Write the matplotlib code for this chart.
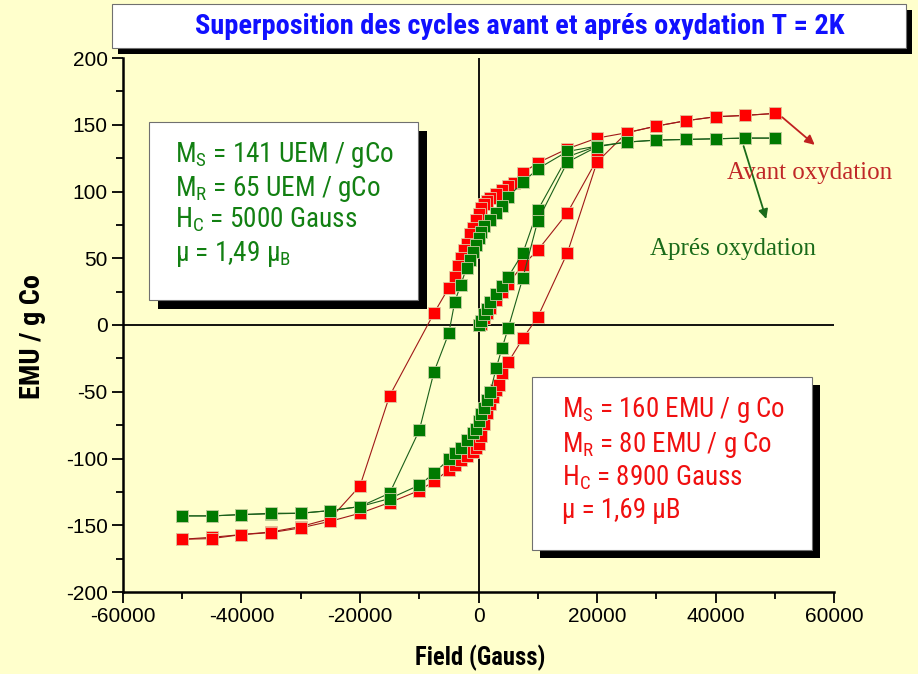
import matplotlib
matplotlib.use("Agg")
import matplotlib.pyplot as plt
from matplotlib import font_manager
from matplotlib.patches import Rectangle

# ---------------- data (field in Gauss, magnetisation in EMU / g Co) ----------------
# before oxidation (red)
avant_virgin_H = [0, 500, 1000, 1500, 2000, 3000, 4000, 5000, 7500, 10000, 15000, 20000]
avant_virgin_M = [0, 1, 5, 9, 13, 19, 25, 31, 45, 56, 84, 124]

avant_down_H = [50000, 45000, 40000, 35000, 30000, 25000, 20000, 15000, 10000, 7500,
                6000, 5000, 4000, 3000, 2000, 1500, 1000, 500, 0, -500, -1000, -1500,
                -2000, -2500, -3000, -3500, -4000, -5000, -7500, -15000, -20000,
                -25000, -30000, -35000, -40000, -45000, -50000]
avant_down_M = [158.5, 157, 156, 153, 149, 144, 140, 132, 121.5, 114,
                106, 104, 101, 98, 95, 93, 91, 88, 83, 79, 73, 68,
                61, 56, 50, 44, 36, 28, 9, -53, -120.5,
                -145, -151, -155, -157, -159, -160.5]

avant_up_H = [-50000, -45000, -40000, -35000, -30000, -25000, -20000, -15000, -10000,
              -7500, -5000, -4000, -3000, -2000, -1000, -500, 0, 500, 1000, 1500, 2000,
              2500, 3000, 3500, 4000, 5000, 7500, 10000, 15000, 20000, 25000, 30000,
              35000, 40000, 45000, 50000]
avant_up_M = [-160.5, -160, -157, -155.5, -152, -147, -141, -133, -124,
              -117, -108.5, -105, -101, -98, -95, -92, -89, -83, -74, -66, -59,
              -54, -49, -45, -36, -28, -10, 6, 54, 122, 144, 149,
              153, 156, 157, 158.5]

# after oxidation (green)
apres_virgin_H = [0, 500, 1000, 1500, 2000, 3000, 4000, 5000, 7500, 10000, 15000, 20000]
apres_virgin_M = [0, 3, 8, 12, 17, 23, 29, 36, 54, 86, 126, 134]

apres_down_H = [50000, 45000, 40000, 35000, 30000, 25000, 20000, 15000, 10000, 7500,
                5000, 4000, 3000, 2000, 1000, 500, 0, -500, -1000, -1500, -2000,
                -3000, -4000, -5000, -7500, -10000, -15000, -20000, -25000, -30000,
                -35000, -40000, -45000, -50000]
apres_down_M = [140, 140, 139.5, 139, 138.5, 137, 134, 130, 117, 107,
                96, 89, 84, 79, 74, 70, 65, 60, 55, 49, 43,
                30, 17.5, -6, -35, -79, -126, -136, -139, -141,
                -141.5, -142, -143, -143]

apres_up_H = [-50000, -45000, -40000, -35000, -30000, -25000, -20000, -15000, -10000,
              -7500, -5000, -4000, -3000, -2000, -1000, -500, 0, 500, 1000, 1500,
              2000, 3000, 4000, 5000, 7500, 10000, 15000, 20000, 25000, 30000, 35000,
              40000, 45000, 50000]
apres_up_M = [-143, -143, -142, -141, -141, -139, -136, -130, -120,
              -111, -100.5, -96, -92, -86, -81, -78, -72, -67, -62, -56,
              -50, -32, -17, -2.5, 35.5, 78, 122, 133.5, 137, 138.5, 139,
              139.5, 140, 140]

x_ticks = [-60000, -40000, -20000, 0, 20000, 40000, 60000]
y_ticks = [-200, -150, -100, -50, 0, 50, 100, 150, 200]

title = "Superposition des cycles avant et aprés oxydation T = 2K"
green_lines = ["$M_S$ = 141 UEM / gCo", "$M_R$ = 65 UEM / gCo",
               "$H_C$ = 5000 Gauss", "μ = 1,49 $μ_B$"]
red_lines = ["$M_S$ = 160 EMU / g Co", "$M_R$ = 80 EMU / g Co",
             "$H_C$ = 8900 Gauss", "μ = 1,69 μB"]

# ---------------- fonts ----------------
entries = font_manager.fontManager.ttflist
NARROW, STRETCH = "Liberation Sans", "normal"
for fam in ["Liberation Sans Narrow", "Roboto Condensed", "Open Sans Condensed",
            "Noto Sans", "DejaVu Sans", "Open Sans", "Roboto", "Inter"]:
    hits = [f for f in entries if f.name == fam and
            ("condensed" in str(f.stretch).lower() or "narrow" in f.name.lower())]
    if hits:
        NARROW, STRETCH = fam, hits[0].stretch
        break
plt.rcParams["mathtext.default"] = "regular"
plt.rcParams["axes.unicode_minus"] = False

BG = "#ffffcc"
W, H = 918, 674
fig = plt.figure(figsize=(W / 100, H / 100), dpi=100, facecolor=BG)
renderer = fig.canvas.get_renderer()


def fx(px):
    return px / W


def fy(py):
    return 1 - py / H


def fit_width(artist, target_px):
    """Scale a text's font size so its rendered width equals target_px."""
    w = artist.get_window_extent(renderer).width
    artist.set_fontsize(artist.get_fontsize() * target_px / w)
    return artist.get_fontsize()


ax = fig.add_axes([fx(123), fy(592), (834 - 123) / W, (592 - 58) / H])
ax.set_facecolor(BG)

red_face, red_line = "#ff0000", "#a01818"
green_face, green_line = "#007a00", "#1a5f1a"
mk = dict(marker="s", markersize=8, markeredgewidth=0.6, linewidth=0.8)

for hs, ms in [(avant_virgin_H, avant_virgin_M), (avant_down_H, avant_down_M),
               (avant_up_H, avant_up_M)]:
    ax.plot(hs, ms, color=red_line, markerfacecolor=red_face,
            markeredgecolor="#e0c8a0", zorder=3, **mk)
for hs, ms in [(apres_virgin_H, apres_virgin_M), (apres_down_H, apres_down_M),
               (apres_up_H, apres_up_M)]:
    ax.plot(hs, ms, color=green_line, markerfacecolor=green_face,
            markeredgecolor="#c8d0a0", zorder=4, **mk)

ax.axhline(0, color="black", lw=1.3, zorder=2)
ax.axvline(0, color="black", lw=1.3, zorder=2)

ax.set_xlim(-60000, 60000)
ax.set_ylim(-200, 200)
ax.set_xticks(x_ticks)
ax.set_xticks(range(-50000, 60000, 20000), minor=True)
ax.set_yticks(y_ticks)
ax.set_yticks(range(-175, 200, 50), minor=True)
ax.tick_params(which="major", direction="out", length=8, width=1.3, labelsize=15,
               color="black", pad=3)
ax.tick_params(which="minor", direction="out", length=5, width=1.3)
for lab in ax.get_xticklabels() + ax.get_yticklabels():
    lab.set_fontfamily("Liberation Sans")
for side in ("top", "right"):
    ax.spines[side].set_visible(False)
for side in ("left", "bottom"):
    ax.spines[side].set_linewidth(1.8)

# axis titles
xl = fig.text(fx(480), fy(658), "Field (Gauss)", fontsize=19, family=NARROW,
              fontstretch=STRETCH, fontweight="bold", ha="center", va="center")
fit_width(xl, 130)
yl = fig.text(fx(33), fy(337), "EMU / g Co", fontsize=19, family=NARROW,
              fontstretch=STRETCH, fontweight="bold", rotation=90,
              ha="center", va="center")
yl.set_rotation(0)
fit_width(yl, 125)
yl.set_rotation(90)

# curve labels with arrows
ax.annotate("", xy=(57100, 133.6), xytext=(50900, 157),
            arrowprops=dict(arrowstyle="-|>", color="#c02020", lw=1.3,
                            mutation_scale=14))
ax.annotate("", xy=(48700, 77.4), xytext=(44600, 136),
            arrowprops=dict(arrowstyle="-|>", color="#1a6b1a", lw=1.3,
                            mutation_scale=14))
ax.text(42000, 109.4, "Avant oxydation", color="#c02828", fontsize=18,
        family="Liberation Serif", ha="left", va="baseline")
ax.text(29000, 52.4, "Aprés oxydation", color="#1a6b1a", fontsize=18,
        family="Liberation Serif", ha="left", va="baseline")


def shadow_box(x0, y0, x1, y1, off):
    fig.add_artist(Rectangle((fx(x0 + off), fy(y1 + off)), (x1 - x0) / W, (y1 - y0) / H,
                             transform=fig.transFigure, facecolor="black",
                             edgecolor="none", zorder=5))
    fig.add_artist(Rectangle((fx(x0), fy(y1)), (x1 - x0) / W, (y1 - y0) / H,
                             transform=fig.transFigure, facecolor="white",
                             edgecolor="#707070", linewidth=0.8, zorder=6))


# title banner
shadow_box(112, 4, 906, 48, 6)
tt = fig.text(fx(520), fy(27), title, color="#1010ff", fontsize=21, family=NARROW,
              fontstretch=STRETCH, fontweight="bold", ha="center", va="center",
              zorder=7)
fit_width(tt, 650)

# parameter boxes
shadow_box(149, 122, 418, 300, 9)
texts = [fig.text(fx(175), fy(base), line, color="#128012", fontsize=22,
                  family=NARROW, fontstretch=STRETCH, ha="left", va="baseline",
                  zorder=7)
         for line, base in zip(green_lines, [162, 196, 227, 261])]
size = fit_width(texts[0], 218)
for t in texts[1:]:
    t.set_fontsize(size)

shadow_box(532, 377, 812, 550, 8)
texts = [fig.text(fx(562), fy(base), line, color="#f01010", fontsize=22,
                  family=NARROW, fontstretch=STRETCH, ha="left", va="baseline",
                  zorder=7)
         for line, base in zip(red_lines, [417, 452, 485, 518])]
size = fit_width(texts[0], 223)
for t in texts[1:]:
    t.set_fontsize(size)

fig.savefig("out.png", dpi=100, facecolor=BG)
